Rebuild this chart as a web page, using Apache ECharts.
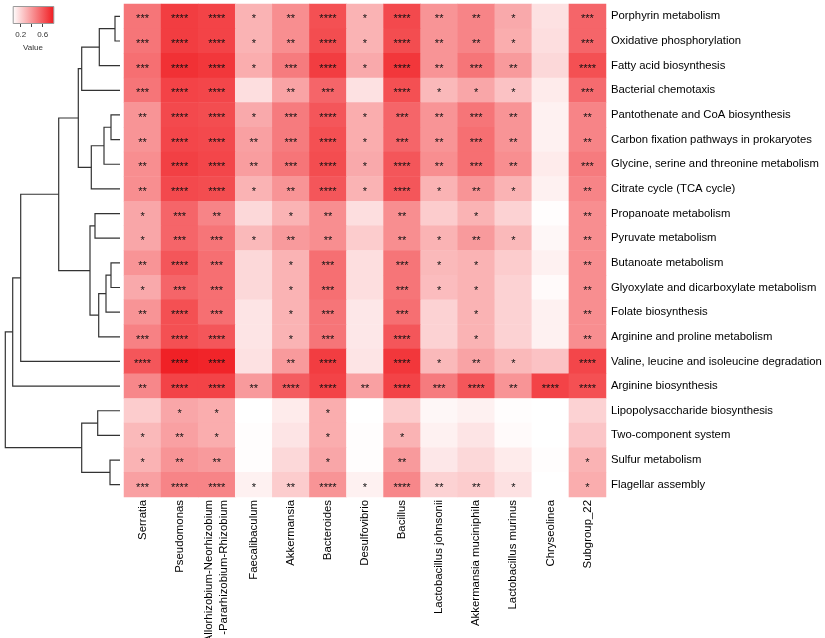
<!DOCTYPE html>
<html>
<head>
<meta charset="utf-8">
<script src="https://cdn.jsdelivr.net/npm/echarts@6/dist/echarts.min.js"></script>
<style>
html,body{margin:0;padding:0;background:#fff;}
#main{width:825px;height:638px;}
</style>
</head>
<body>
<div id="main"></div>
<script>
// ---- Data ----
const genera = ['Serratia', 'Pseudomonas', 'Allorhizobium-Neorhizobium\n-Pararhizobium-Rhizobium', 'Faecalibaculum',
  'Akkermansia', 'Bacteroides', 'Desulfovibrio', 'Bacillus', 'Lactobacillus johnsonii',
  'Akkermansia muciniphila', 'Lactobacillus murinus', 'Chryseolinea', 'Subgroup_22'];

const pathways = ['Porphyrin metabolism', 'Oxidative phosphorylation', 'Fatty acid biosynthesis', 'Bacterial chemotaxis',
  'Pantothenate and CoA biosynthesis', 'Carbon fixation pathways in prokaryotes', 'Glycine, serine and threonine metabolism',
  'Citrate cycle (TCA cycle)', 'Propanoate metabolism', 'Pyruvate metabolism', 'Butanoate metabolism',
  'Glyoxylate and dicarboxylate metabolism', 'Folate biosynthesis', 'Arginine and proline metabolism',
  'Valine, leucine and isoleucine degradation', 'Arginine biosynthesis', 'Lipopolysaccharide biosynthesis',
  'Two-component system', 'Sulfur metabolism', 'Flagellar assembly'];

// correlation values, one row per pathway, columns in genera order
const values = [
  [0.50, 0.68, 0.66, 0.30, 0.42, 0.62, 0.30, 0.64, 0.40, 0.45, 0.33, 0.15, 0.55],
  [0.50, 0.68, 0.66, 0.30, 0.42, 0.63, 0.30, 0.63, 0.40, 0.45, 0.32, 0.16, 0.55],
  [0.52, 0.72, 0.70, 0.32, 0.48, 0.68, 0.33, 0.70, 0.40, 0.50, 0.38, 0.18, 0.62],
  [0.50, 0.66, 0.65, 0.16, 0.35, 0.55, 0.15, 0.62, 0.28, 0.34, 0.25, 0.12, 0.53],
  [0.40, 0.64, 0.63, 0.33, 0.48, 0.60, 0.32, 0.55, 0.40, 0.50, 0.40, 0.10, 0.45],
  [0.40, 0.65, 0.64, 0.36, 0.48, 0.62, 0.32, 0.55, 0.40, 0.52, 0.40, 0.10, 0.45],
  [0.42, 0.67, 0.65, 0.37, 0.50, 0.63, 0.33, 0.60, 0.42, 0.52, 0.42, 0.12, 0.48],
  [0.42, 0.64, 0.63, 0.30, 0.40, 0.60, 0.30, 0.60, 0.30, 0.40, 0.30, 0.10, 0.45],
  [0.34, 0.55, 0.45, 0.18, 0.30, 0.42, 0.16, 0.42, 0.22, 0.30, 0.20, 0.06, 0.42],
  [0.34, 0.55, 0.50, 0.28, 0.38, 0.42, 0.22, 0.42, 0.30, 0.38, 0.28, 0.08, 0.42],
  [0.40, 0.60, 0.52, 0.18, 0.30, 0.52, 0.16, 0.50, 0.28, 0.30, 0.22, 0.10, 0.42],
  [0.33, 0.55, 0.52, 0.18, 0.30, 0.52, 0.16, 0.50, 0.27, 0.30, 0.20, 0.07, 0.42],
  [0.40, 0.62, 0.52, 0.14, 0.30, 0.50, 0.13, 0.52, 0.20, 0.30, 0.20, 0.10, 0.42],
  [0.46, 0.62, 0.60, 0.14, 0.30, 0.50, 0.13, 0.60, 0.20, 0.30, 0.20, 0.10, 0.42],
  [0.60, 0.77, 0.76, 0.15, 0.38, 0.68, 0.14, 0.70, 0.28, 0.35, 0.28, 0.25, 0.65],
  [0.44, 0.66, 0.66, 0.38, 0.58, 0.66, 0.36, 0.66, 0.48, 0.60, 0.40, 0.66, 0.62],
  [0.22, 0.34, 0.32, 0.05, 0.12, 0.32, 0.05, 0.22, 0.08, 0.10, 0.06, 0.05, 0.20],
  [0.28, 0.36, 0.32, 0.06, 0.14, 0.32, 0.06, 0.30, 0.10, 0.14, 0.07, 0.05, 0.24],
  [0.30, 0.40, 0.38, 0.06, 0.18, 0.34, 0.06, 0.38, 0.13, 0.18, 0.12, 0.06, 0.30],
  [0.36, 0.45, 0.45, 0.10, 0.22, 0.40, 0.10, 0.44, 0.20, 0.22, 0.15, 0.05, 0.32]
];

// significance marks, same layout as values
const stars = [
  ['***', '****', '****', '*', '**', '****', '*', '****', '**', '**', '*', '', '***'],
  ['***', '****', '****', '*', '**', '****', '*', '****', '**', '**', '*', '', '***'],
  ['***', '****', '****', '*', '***', '****', '*', '****', '**', '***', '**', '', '****'],
  ['***', '****', '****', '', '**', '***', '', '****', '*', '*', '*', '', '***'],
  ['**', '****', '****', '*', '***', '****', '*', '***', '**', '***', '**', '', '**'],
  ['**', '****', '****', '**', '***', '****', '*', '***', '**', '***', '**', '', '**'],
  ['**', '****', '****', '**', '***', '****', '*', '****', '**', '***', '**', '', '***'],
  ['**', '****', '****', '*', '**', '****', '*', '****', '*', '**', '*', '', '**'],
  ['*', '***', '**', '', '*', '**', '', '**', '', '*', '', '', '**'],
  ['*', '***', '***', '*', '**', '**', '', '**', '*', '**', '*', '', '**'],
  ['**', '****', '***', '', '*', '***', '', '***', '*', '*', '', '', '**'],
  ['*', '***', '***', '', '*', '***', '', '***', '*', '*', '', '', '**'],
  ['**', '****', '***', '', '*', '***', '', '***', '', '*', '', '', '**'],
  ['***', '****', '****', '', '*', '***', '', '****', '', '*', '', '', '**'],
  ['****', '****', '****', '', '**', '****', '', '****', '*', '**', '*', '', '****'],
  ['**', '****', '****', '**', '****', '****', '**', '****', '***', '****', '**', '****', '****'],
  ['', '*', '*', '', '', '*', '', '', '', '', '', '', ''],
  ['*', '**', '*', '', '', '*', '', '*', '', '', '', '', ''],
  ['*', '**', '**', '', '', '*', '', '**', '', '', '', '', '*'],
  ['***', '****', '****', '*', '**', '****', '*', '****', '**', '**', '*', '', '*']
];

// row clustering (hclust style: negative = leaf row number, positive = earlier merge)
const mergeLeft   = [-1, 1, 2, -5, 4, 5, 3, -9, -11, 9, 10, 8, 7, 13, 14, -17, -19, 16, 15];
const mergeRight  = [-2, -3, -4, -6, -7, -8, 6, -10, -12, -13, -14, 11, 12, -15, -16, -18, -20, 17, 18];
const mergeHeight = [5, 20.7, 38.3, 9, 16, 28.7, 41.7, 25, 9, 14, 21.3, 30, 61.3, 99.3, 107.3, 22.3, 10, 38.3, 114.7];

// legend ticks
const legendTicks = [0.2, 0.4, 0.6];
const legendLabels = [0.2, 0.6];
const colorMin = 0.054, colorMax = 0.793;

// ---- Build ----
const heatData = [];
values.forEach((row, r) => row.forEach((v, c) => heatData.push([c, r, v])));

const nodeY = [], nodeH = [];
function pos(id) {
  if (id < 0) return [0, -id - 1];
  return [nodeH[id - 1], nodeY[id - 1]];
}
const dendroLines = [];
for (let i = 0; i < mergeHeight.length; i++) {
  const a = pos(mergeLeft[i]), b = pos(mergeRight[i]);
  const h = mergeHeight[i];
  nodeH.push(h);
  nodeY.push((a[1] + b[1]) / 2);
  dendroLines.push({ coords: [[a[0], a[1]], [h, a[1]], [h, b[1]], [b[0], b[1]]] });
}

const FONT = 'Liberation Sans, Arial, sans-serif';
const chart = echarts.init(document.getElementById('main'), null, { renderer: 'canvas' });
const option = {
  animation: false,
  backgroundColor: '#ffffff',
  textStyle: { fontFamily: FONT },
  grid: [
    { left: 124, top: 4, width: 482, height: 493, outerBoundsMode: 'none', containLabel: false },
    { left: 5, top: 4, width: 115, height: 493, outerBoundsMode: 'none', containLabel: false },
    { left: 12.7, top: 23, width: 40.6, height: 1, outerBoundsMode: 'none', containLabel: false }
  ],
  xAxis: [
    {
      type: 'category', data: genera, gridIndex: 0, position: 'bottom',
      axisLine: { show: false }, axisTick: { show: false }, splitLine: { show: false },
      axisLabel: { rotate: 90, fontSize: 11.4, color: '#000', margin: 3, interval: 0, fontFamily: FONT, lineHeight: 15 }
    },
    { type: 'value', gridIndex: 1, min: 0, max: 115, inverse: true, show: false },
    {
      type: 'value', gridIndex: 2, min: colorMin, max: colorMax, position: 'bottom',
      axisLine: { show: false }, splitLine: { show: false },
      axisTick: { show: true, length: 3, customValues: legendTicks, lineStyle: { color: '#444', width: 1 } },
      axisLabel: { customValues: legendLabels, fontSize: 8, color: '#333', margin: 7, fontFamily: FONT },
      name: 'Value', nameLocation: 'middle', nameGap: 20,
      nameTextStyle: { fontSize: 8, color: '#333', fontFamily: FONT }
    }
  ],
  yAxis: [
    {
      type: 'category', data: pathways, gridIndex: 0, inverse: true, position: 'right',
      axisLine: { show: false }, axisTick: { show: false }, splitLine: { show: false },
      axisLabel: { fontSize: 11.3, color: '#000', margin: 5, interval: 0, fontFamily: FONT }
    },
    { type: 'value', gridIndex: 1, min: -0.5, max: 19.5, inverse: true, show: false },
    { type: 'value', gridIndex: 2, show: false }
  ],
  visualMap: {
    show: false, type: 'continuous', seriesIndex: 0,
    min: colorMin, max: colorMax,
    inRange: { color: ['#ffffff', '#f01a1f'] }
  },
  graphic: [
    {
      type: 'rect', left: 12.7, top: 6, z: 10,
      shape: { width: 40.6, height: 17 },
      style: {
        fill: new echarts.graphic.LinearGradient(0, 0, 1, 0, [
          { offset: 0, color: '#ffffff' }, { offset: 1, color: '#f01a1f' }
        ]),
        stroke: '#9a9a9a', lineWidth: 1
      }
    }
  ],
  series: [
    {
      type: 'heatmap', xAxisIndex: 0, yAxisIndex: 0, data: heatData,
      itemStyle: { borderWidth: 0 },
      label: {
        show: true, fontSize: 11, color: '#111', fontFamily: FONT, offset: [0, 3],
        formatter: p => stars[p.data[1]][p.data[0]]
      },
      emphasis: { disabled: true }
    },
    {
      type: 'lines', coordinateSystem: 'cartesian2d', xAxisIndex: 1, yAxisIndex: 1,
      polyline: true, silent: true, data: dendroLines,
      lineStyle: { color: '#333', width: 1.2, opacity: 1 }
    }
  ]
};
chart.setOption(option);
</script>
</body>
</html>
